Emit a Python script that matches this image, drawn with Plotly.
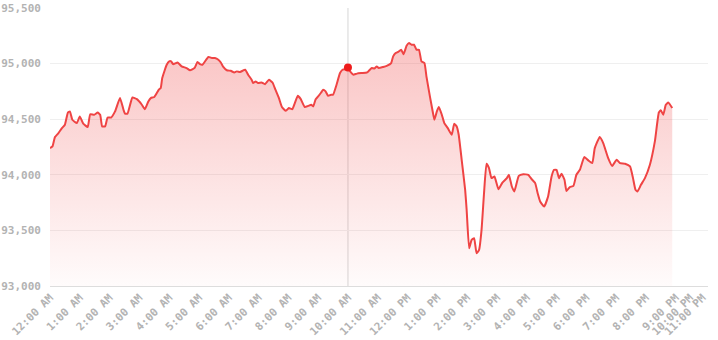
import pandas as pd
import plotly.graph_objects as go

# Intraday price series: minutes after midnight and price
minutes = [0, 5, 10, 17, 24, 30, 36, 40, 45, 54, 60, 67, 76, 81, 89, 96, 101, 105, 111, 116,
           123, 131, 141, 148, 151, 156, 166, 175, 185, 191, 198, 203, 210, 219, 223, 226, 235, 240, 244, 248,
           257, 265, 275, 282, 291, 297, 302, 307, 319, 326, 332, 339, 344, 349, 356, 364, 371, 376, 383, 393,
           399, 406, 409, 414, 419, 426, 433, 441, 448, 454, 461, 467, 475, 481, 488, 493, 499, 505, 513, 520,
           526, 530, 535, 540, 546, 550, 555, 560, 566, 570, 577, 584, 589, 594, 600, 608, 611, 618, 628, 638,
           641, 648, 653, 658, 662, 671, 678, 687, 691, 696, 701, 707, 712, 718, 723, 728, 733, 738, 743, 748,
           754, 758, 765, 770, 774, 779, 783, 789, 794, 801, 809, 814, 819, 823, 829, 836, 839, 844, 849, 854,
           859, 864, 869, 874, 879, 884, 889, 895, 903, 911, 920, 924, 930, 935, 944, 953, 963, 970, 977, 982,
           987, 995, 1003, 1010, 1015, 1020, 1025, 1030, 1036, 1040, 1047, 1054, 1060, 1067, 1076, 1084, 1092, 1097, 1107, 1114,
           1124, 1132, 1141, 1148, 1158, 1168, 1174, 1179, 1183, 1190, 1198, 1208, 1218, 1226, 1230, 1235, 1240, 1245, 1253]
prices = [94240, 94255, 94340, 94375, 94420, 94450, 94560, 94570, 94495, 94465, 94525, 94460, 94430, 94545, 94540, 94560, 94540, 94435, 94435, 94515,
          94515, 94570, 94690, 94585, 94550, 94550, 94695, 94680, 94630, 94590, 94660, 94690, 94700, 94765, 94780, 94870, 94990, 95020, 95020, 94995,
          95010, 94975, 94960, 94940, 94960, 95015, 94995, 94990, 95060, 95050, 95050, 95035, 95010, 94970, 94940, 94935, 94920, 94930, 94925, 94945,
          94900, 94855, 94825, 94840, 94825, 94830, 94815, 94855, 94830, 94765, 94690, 94610, 94575, 94600, 94590, 94645, 94710, 94680, 94610, 94620,
          94630, 94615, 94680, 94705, 94740, 94765, 94750, 94710, 94720, 94720, 94810, 94915, 94945, 94950, 94950, 94910, 94900, 94910, 94915, 94920,
          94930, 94960, 94955, 94975, 94960, 94970, 94980, 95005, 95065, 95095, 95105, 95125, 95085, 95160, 95185, 95170, 95170, 95125, 95125, 95020,
          95005, 94885, 94705, 94585, 94495, 94570, 94610, 94540, 94465, 94420, 94360, 94460, 94435, 94360, 94135, 93865, 93685, 93340, 93415, 93430,
          93295, 93325, 93505, 93835, 94100, 94060, 93970, 93985, 93870, 93930, 93970, 94000, 93895, 93850, 93990, 94005, 94000, 93960, 93925, 93835,
          93760, 93715, 93805, 93985, 94045, 94045, 93970, 94010, 93955, 93855, 93890, 93900, 94000, 94045, 94160, 94130, 94105, 94240, 94340, 94285,
          94150, 94080, 94135, 94105, 94100, 94075, 93970, 93865, 93850, 93910, 93970, 94090, 94300, 94560, 94580, 94540, 94630, 94650, 94600]

# Highlighted reading at 10:00 AM
marker_minute = 600
marker_price = 94965

# Hour tick labels along the time axis
tick_labels = ["12:00 AM", "1:00 AM", "2:00 AM", "3:00 AM", "4:00 AM", "5:00 AM", "6:00 AM", "7:00 AM",
               "8:00 AM", "9:00 AM", "10:00 AM", "11:00 AM", "12:00 PM", "1:00 PM", "2:00 PM", "3:00 PM",
               "4:00 PM", "5:00 PM", "6:00 PM", "7:00 PM", "8:00 PM", "9:00 PM", "10:00 PM", "11:00 PM"]
tick_minutes = [h * 60 for h in range(22)] + [1289, 1314]

y_ticks = [93000, 93500, 94000, 94500, 95000, 95500]

day = pd.Timestamp("2024-01-01")
to_time = lambda m: day + pd.to_timedelta(m, unit="m")
times = [to_time(m) for m in minutes]

LINE = "#ef4444"
TICK_FONT = dict(family="DejaVu Sans Mono", size=11, color="#b3b3b3", weight="bold")

fig = go.Figure()
fig.add_trace(go.Scatter(
    x=times, y=prices, mode="lines",
    line=dict(color=LINE, width=2, shape="spline", smoothing=0.4),
    fill="tozeroy",
    fillgradient=dict(type="vertical", start=93000, stop=max(prices),
                      colorscale=[[0, "rgba(239,68,68,0.02)"], [1, "rgba(239,68,68,0.32)"]]),
    hoverinfo="skip", showlegend=False,
))
fig.add_trace(go.Scatter(
    x=[to_time(marker_minute)], y=[marker_price], mode="markers",
    marker=dict(color="#ee1c1c", size=8, line=dict(width=0)), hoverinfo="skip", showlegend=False,
))

# Crosshair at the highlighted time
fig.add_shape(type="line", xref="x", yref="paper",
              x0=to_time(marker_minute), x1=to_time(marker_minute), y0=0, y1=1,
              line=dict(color="#d6d6d6", width=1), layer="below")

fig.update_layout(
    width=718, height=340,
    margin=dict(l=50, r=10, t=8, b=54, autoexpand=False),
    paper_bgcolor="white", plot_bgcolor="white",
    showlegend=False,
)
fig.update_xaxes(
    type="date", automargin=False,
    range=[to_time(0), to_time(1325)],
    tickvals=[to_time(m) for m in tick_minutes], ticktext=tick_labels,
    tickangle=-45, tickfont=TICK_FONT,
    showgrid=False, showline=True, linecolor="#dddddd", linewidth=1,
    ticks="", zeroline=False,
)
fig.update_yaxes(
    automargin=False,
    range=[93000, 95500], tickvals=y_ticks, tickformat=",d",
    tickfont=TICK_FONT,
    showgrid=True, gridcolor="#efefef", gridwidth=1,
    showline=False, zeroline=False, ticks="", ticklabelstandoff=8,
)

fig.write_html("out.html")
